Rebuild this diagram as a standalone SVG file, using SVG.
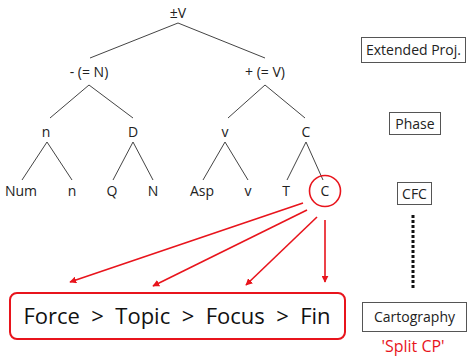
<svg xmlns="http://www.w3.org/2000/svg" width="467" height="357" viewBox="0 0 467 357">
<defs>
<marker id="ah" viewBox="0 0 10 10" refX="9" refY="5" markerWidth="7" markerHeight="7" orient="auto" markerUnits="userSpaceOnUse">
<path d="M0,0 L10,5 L0,10 z" fill="#e8141c"/>
</marker>
<style>
.t{font-family:"Open Sans","DejaVu Sans",sans-serif;font-size:14px;fill:#222;text-anchor:middle}
.b{font-family:"Open Sans","DejaVu Sans",sans-serif;font-size:14px;fill:#222;text-anchor:middle}
.e{stroke:#444;stroke-width:1;fill:none}
.box{fill:#fff;stroke:#555;stroke-width:1}
.r{stroke:#e8141c;stroke-width:1.6;fill:none}
</style>
</defs>
<rect width="467" height="357" fill="#fff"/>
<g id="edges">
<path class="e" d="M178,23 L90,58 M178,23 L265,58 M89,85 L50,118 M89,85 L133,118 M265,85 L228,118 M265,85 L305,118 M47,142 L22,180 M47,142 L72,180 M133,142 L113,180 M133,142 L153,180 M225,142 L203,180 M225,142 L248,180 M306,142 L287,180 M306,142 L323,180"/>
</g>
<g id="tree-nodes">
<text class="t" x="178" y="18">±V</text>
<text class="t" x="89" y="77">- (= N)</text>
<text class="t" x="265" y="77">+ (= V)</text>
<text class="t" x="46" y="137">n</text>
<text class="t" x="133" y="137">D</text>
<text class="t" x="225" y="137">v</text>
<text class="t" x="306" y="137">C</text>
<text class="t" x="21" y="196">Num</text>
<text class="t" x="72" y="196">n</text>
<text class="t" x="112" y="196">Q</text>
<text class="t" x="153" y="196">N</text>
<text class="t" x="202" y="196">Asp</text>
<text class="t" x="248" y="196">v</text>
<text class="t" x="286" y="196">T</text>
<text class="t" x="325" y="196">C</text>
<circle class="r" cx="325" cy="191" r="15.5"/>
</g>
<g id="labels">
<rect class="box" x="361.5" y="37.5" width="104" height="25"/>
<text class="b" x="413.5" y="55">Extended Proj.</text>
<rect class="box" x="389.5" y="112.5" width="51" height="22"/>
<text class="b" x="415" y="128.5">Phase</text>
<rect class="box" x="397.5" y="182.5" width="34" height="22"/>
<text class="b" x="414.5" y="198.5">CFC</text>
<line x1="413" y1="215" x2="413" y2="288" stroke="#111" stroke-width="3" stroke-dasharray="3,2"/>
<rect class="box" x="362.5" y="302.5" width="104" height="29"/>
<text class="b" x="414.5" y="321.5">Cartography</text>
<text x="413" y="352" font-family="Open Sans, DejaVu Sans, sans-serif" font-size="16" fill="#e8141c" text-anchor="middle">'Split CP'</text>
</g>
<g id="cartography">
<rect x="10" y="293" width="335" height="46" rx="7" fill="#fff" stroke="#e8141c" stroke-width="2"/>
<text x="177" y="324" font-family="Open Sans, DejaVu Sans, sans-serif" font-size="22" fill="#111" text-anchor="middle" xml:space="preserve">Force  &gt;  Topic  &gt;  Focus  &gt;  Fin</text>
</g>
<g id="connectors">
<line class="r" x1="303" y1="203" x2="70" y2="282" marker-end="url(#ah)"/>
<line class="r" x1="307" y1="210" x2="153" y2="286" marker-end="url(#ah)"/>
<line class="r" x1="317" y1="217" x2="246" y2="285" marker-end="url(#ah)"/>
<line class="r" x1="325" y1="220" x2="325" y2="282" marker-end="url(#ah)"/>
</g>
</svg>
